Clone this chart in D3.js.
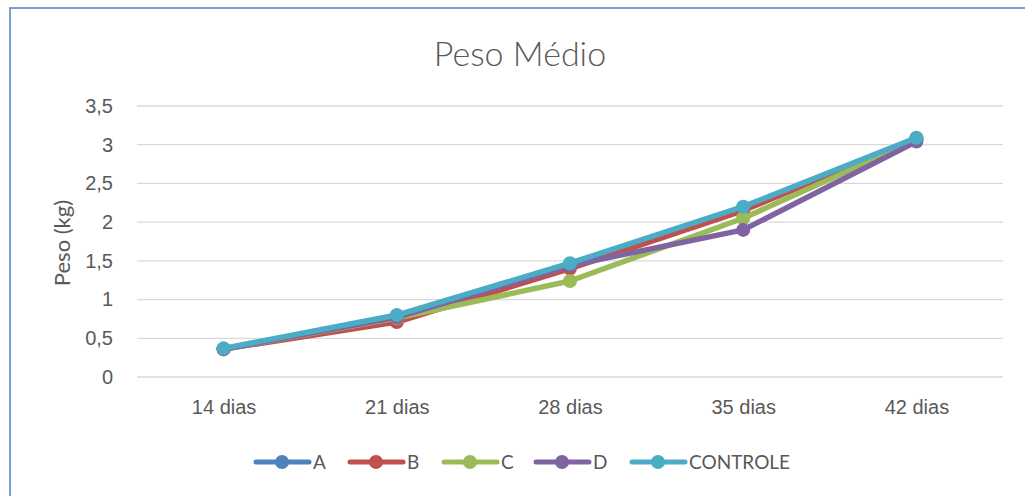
<!DOCTYPE html>
<html>
<head>
  <meta charset='utf-8'>
  <script src='https://cdn.jsdelivr.net/npm/d3@7/dist/d3.min.js'></script>
  <style>
    body { margin: 0; background: #fff; }
    svg { display: block; font-family: Lato, 'Open Sans', sans-serif; }
  </style>
</head>
<body>
<div id='chart'></div>
<script>
  var categories = ['14 dias', '21 dias', '28 dias', '35 dias', '42 dias'];
  var seriesNames = ['A', 'B', 'C', 'D', 'CONTROLE'];
  var seriesColors = ['#4F81BD', '#C0504D', '#9BBB59', '#8064A2', '#4BACC6'];
  var valuesA = [0.36, 0.78, 1.45, 2.19, 3.08];
  var valuesB = [0.36, 0.71, 1.40, 2.15, 3.07];
  var valuesC = [0.36, 0.76, 1.24, 2.05, 3.06];
  var valuesD = [0.36, 0.77, 1.44, 1.90, 3.04];
  var valuesControle = [0.37, 0.80, 1.47, 2.20, 3.09];
  var yTicks = [0, 0.5, 1, 1.5, 2, 2.5, 3, 3.5];

  var allValues = [valuesA, valuesB, valuesC, valuesD, valuesControle];

  var width = 1025, height = 496;
  var margin = { top: 106, right: 22, bottom: 119, left: 137 };

  var svg = d3.select('#chart').append('svg')
    .attr('width', width)
    .attr('height', height);

  // frame of the chart area (cropped at right and bottom)
  svg.append('rect')
    .attr('x', 10).attr('y', 8)
    .attr('width', 1040).attr('height', 520)
    .attr('fill', '#fff')
    .attr('stroke', '#4F81BD')
    .attr('stroke-width', 1.5);

  var plotW = width - margin.left - margin.right,
    plotH = height - margin.top - margin.bottom;

  var g = svg.append('g')
    .attr('transform', 'translate(' + margin.left + ',' + margin.top + ')');

  var x = d3.scalePoint()
    .domain(categories)
    .range([0, plotW])
    .padding(0.5);

  var y = d3.scaleLinear()
    .domain([0, 3.5])
    .range([plotH, 0]);

  // gridlines
  g.selectAll('.grid')
    .data(yTicks)
    .enter()
    .append('line')
    .attr('x1', 0).attr('x2', plotW)
    .attr('y1', function(d) { return y(d); })
    .attr('y2', function(d) { return y(d); })
    .attr('stroke', '#d9d9d9')
    .attr('stroke-width', 1.3);

  var yAxis = g.append('g')
    .call(d3.axisLeft(y).tickValues(yTicks).tickSize(0).tickPadding(24)
      .tickFormat(function(d) { return String(d).replace('.', ','); }));
  yAxis.select('.domain').remove();
  yAxis.selectAll('text')
    .attr('fill', '#595959')
    .style('font-size', '20px');

  var xAxis = g.append('g')
    .attr('transform', 'translate(0,' + plotH + ')')
    .call(d3.axisBottom(x).tickSize(0).tickPadding(23));
  xAxis.select('.domain').remove();
  xAxis.selectAll('text')
    .attr('fill', '#595959')
    .style('font-size', '20px');

  // title
  svg.append('text')
    .attr('x', 520).attr('y', 66)
    .attr('text-anchor', 'middle')
    .attr('fill', '#595959')
    .style('font-size', '34px')
    .style('font-weight', 300)
    .text('Peso Médio');

  // y axis title
  svg.append('text')
    .attr('transform', 'translate(70,243) rotate(-90)')
    .attr('text-anchor', 'middle')
    .attr('fill', '#595959')
    .style('font-size', '22px')
    .text('Peso (kg)');

  var line = d3.line()
    .x(function(d, i) { return x(categories[i]); })
    .y(function(d) { return y(d); });

  allValues.forEach(function(vals, s) {
    var sg = g.append('g');
    sg.append('path')
      .datum(vals)
      .attr('d', line)
      .attr('fill', 'none')
      .attr('stroke', seriesColors[s])
      .attr('stroke-width', 5.5)
      .attr('stroke-linejoin', 'round')
      .attr('stroke-linecap', 'round');
    sg.selectAll('circle')
      .data(vals)
      .enter()
      .append('circle')
      .attr('cx', function(d, i) { return x(categories[i]); })
      .attr('cy', function(d) { return y(d); })
      .attr('r', 7)
      .attr('fill', seriesColors[s]);
  });

  // legend
  var legendX = [254, 348, 442, 534, 630];
  var legend = svg.append('g').attr('transform', 'translate(0,462)');
  seriesNames.forEach(function(name, s) {
    var lg = legend.append('g').attr('transform', 'translate(' + legendX[s] + ',0)');
    lg.append('line')
      .attr('x1', 2).attr('x2', 55)
      .attr('stroke', seriesColors[s])
      .attr('stroke-width', 5)
      .attr('stroke-linecap', 'round');
    lg.append('circle')
      .attr('cx', 28).attr('r', 7)
      .attr('fill', seriesColors[s]);
    lg.append('text')
      .attr('x', 59).attr('dy', '0.36em')
      .attr('fill', '#595959')
      .style('font-size', '19px')
      .text(name);
  });
</script>
</body>
</html>
